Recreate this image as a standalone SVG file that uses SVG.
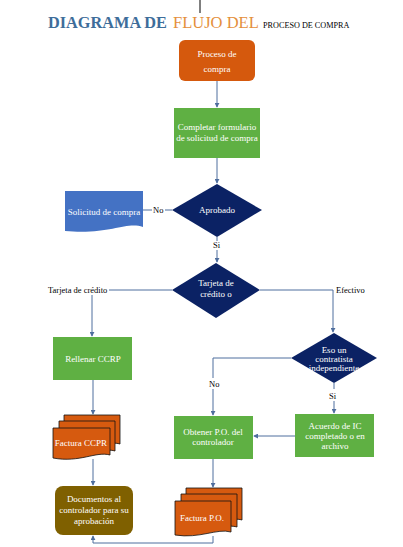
<svg xmlns="http://www.w3.org/2000/svg" width="403" height="547" viewBox="0 0 403 547" font-family="'Liberation Serif', 'Times New Roman', 'DejaVu Serif', serif">
<defs>
<style>
text{font-family:'Liberation Serif','Times New Roman','DejaVu Serif',serif;}
.w{fill:#ffffff;font-size:9px;text-anchor:middle;}
.lbl{fill:#000000;font-size:8.5px;}
.c{fill:none;stroke:#4f6e9e;stroke-width:1;}
.green{fill:#5fb043;}
.dia{fill:#0b2264;}
.doc{fill:#d65a0f;stroke:#111111;stroke-width:0.8;}
</style>
<marker id="ah" viewBox="0 0 6 6" refX="5" refY="3" markerWidth="5" markerHeight="5" orient="auto">
<path d="M0,0 L6,3 L0,6 Z" fill="#4f6e9e"/>
</marker>
</defs>
<rect width="403" height="547" fill="#ffffff"/>
<line x1="200" y1="0" x2="200" y2="13" stroke="#000" stroke-width="1"/>
<g id="title">
<text x="48" y="28" font-size="16.3" font-weight="bold" fill="#3e6d9a">DIAGRAMA DE</text>
<text x="173" y="28" font-size="16.5" fill="#e48f3c">FLUJO DEL</text>
<text x="263" y="28" font-size="8.2" fill="#000">PROCESO DE COMPRA</text>
</g>
<g id="connectors">
<line class="c" x1="217" y1="80" x2="217" y2="107" marker-end="url(#ah)"/>
<line class="c" x1="217" y1="158" x2="217" y2="183" marker-end="url(#ah)"/>
<line class="c" x1="143" y1="210" x2="152" y2="210"/>
<line class="c" x1="165" y1="210" x2="172" y2="210"/>
<line class="c" x1="217" y1="237" x2="217" y2="241"/>
<line class="c" x1="217" y1="250" x2="217" y2="262" marker-end="url(#ah)"/>
<line class="c" x1="172" y1="290" x2="109" y2="290"/>
<line class="c" x1="92" y1="295" x2="92" y2="336" marker-end="url(#ah)"/>
<polyline class="c" points="260,290 333,290 333,332" marker-end="url(#ah)"/>
<line class="c" x1="93" y1="380" x2="93" y2="414" marker-end="url(#ah)"/>
<polyline class="c" points="291,358 213,358 213,378"/>
<line class="c" x1="213" y1="389" x2="213" y2="415" marker-end="url(#ah)"/>
<line class="c" x1="334" y1="383" x2="334" y2="389"/>
<line class="c" x1="334" y1="401" x2="334" y2="413" marker-end="url(#ah)"/>
<line class="c" x1="295" y1="436" x2="254" y2="436" marker-end="url(#ah)"/>
<line class="c" x1="213" y1="459" x2="213" y2="487" marker-end="url(#ah)"/>
<line class="c" x1="93" y1="459" x2="93" y2="485" marker-end="url(#ah)"/>
<polyline class="c" points="213,536 213,543 93,543 93,536" marker-end="url(#ah)"/>
<text class="lbl" x="153" y="213">No</text>
<text class="lbl" x="213" y="248">Si</text>
<text class="lbl" x="48" y="293">Tarjeta de crédito</text>
<text class="lbl" x="336" y="293">Efectivo</text>
<text class="lbl" x="209" y="387">No</text>
<text class="lbl" x="329" y="399">Si</text>
</g>
<g id="proceso">
<rect x="179" y="40" width="76" height="41" rx="6" fill="#d5590d"/>
<text class="w" x="217" y="57" font-size="11">Proceso de</text>
<text class="w" x="217" y="72" font-size="11">compra</text>
</g>
<g id="completar">
<rect class="green" x="174" y="108" width="86" height="50"/>
<text class="w" x="217" y="130">Completar formulario</text>
<text class="w" x="217" y="141">de solicitud de compra</text>
</g>
<g id="solicitud">
<path d="M65,191 H143 V227 C126,221 110,235 65,231 Z" fill="#4472c4"/>
<text class="w" x="104" y="215" font-size="8.5">Solicitud de compra</text>
</g>
<g id="aprobado">
<polygon class="dia" points="217,184 262,210 217,237 172,210"/>
<text class="w" x="217" y="213">Aprobado</text>
</g>
<g id="tarjeta">
<polygon class="dia" points="216,263 260,290 216,318 172,290"/>
<text class="w" x="216" y="286" font-size="8.5">Tarjeta de</text>
<text class="w" x="216" y="297" font-size="8.5">crédito o</text>
</g>
<g id="rellenar">
<rect class="green" x="53" y="337" width="79" height="43"/>
<text class="w" x="93" y="362">Rellenar CCRP</text>
</g>
<g id="contratista">
<polygon class="dia" points="334,333 377,358 334,383 291,358"/>
<text class="w" x="334" y="353" font-size="8">Eso   un</text>
<text class="w" x="334" y="362" font-size="8">contratista</text>
<text class="w" x="334" y="371" font-size="8">independiente</text>
</g>
<g id="acuerdo">
<rect class="green" x="295" y="414" width="79" height="43"/>
<text class="w" x="335" y="429">Acuerdo de IC</text>
<text class="w" x="335" y="439">completado o en</text>
<text class="w" x="335" y="449">archivo</text>
</g>
<g id="obtener">
<rect class="green" x="174" y="416" width="79" height="43"/>
<text class="w" x="213" y="435">Obtener P.O. del</text>
<text class="w" x="213" y="445">controlador</text>
</g>
<g id="facturaccpr">
<path class="doc" d="M64,415 H120 V444 C110,441 100,447 64,446 Z"/>
<path class="doc" d="M59,421 H115 V451 C105,448 95,454 59,452 Z"/>
<path class="doc" d="M53,428 H110 V455 C96,451 80,463 53,458 Z"/>
<text class="w" x="81" y="446" font-size="8.5">Factura CCPR</text>
</g>
<g id="documentos">
<rect x="55" y="486" width="78" height="49" rx="8" fill="#7f6000"/>
<text class="w" x="94" y="502" font-size="8.5">Documentos al</text>
<text class="w" x="94" y="513" font-size="8.5">controlador para su</text>
<text class="w" x="94" y="524" font-size="8.5">aprobación</text>
</g>
<g id="facturapo">
<path class="doc" d="M186,488 H242 V520 C232,517 222,523 186,522 Z"/>
<path class="doc" d="M181,494 H237 V527 C227,524 217,530 181,529 Z"/>
<path class="doc" d="M175,501 H231 V532 C217,528 200,539 175,535 Z"/>
<text class="w" x="202" y="521" font-size="8.5">Factura P.O.</text>
</g>
</svg>
